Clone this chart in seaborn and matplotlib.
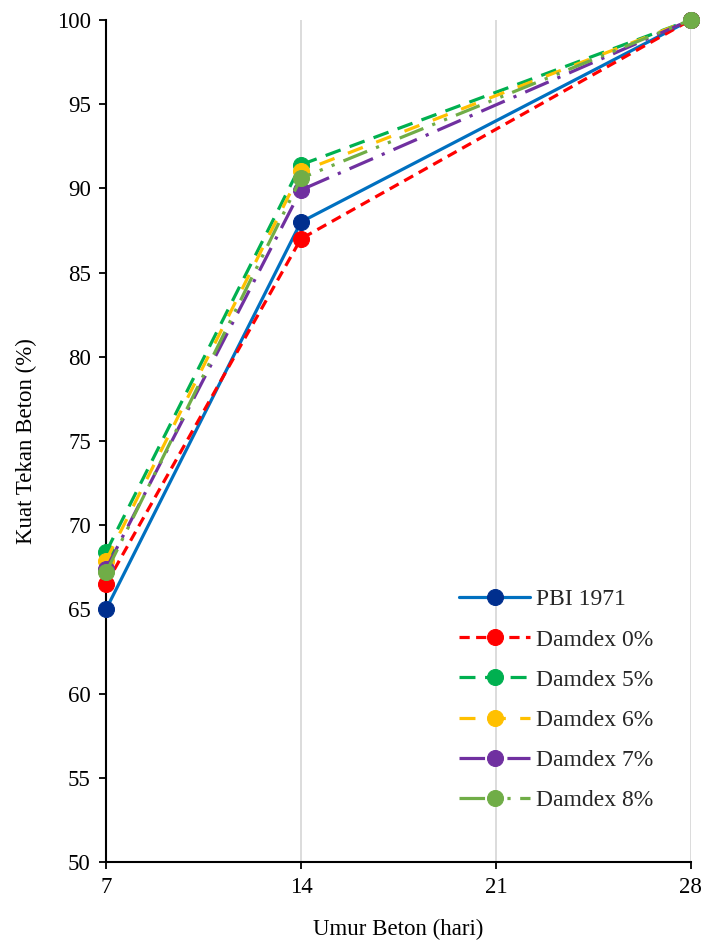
import matplotlib
matplotlib.use("Agg")
import matplotlib.pyplot as plt
import seaborn as sns
import pandas as pd

days = [7, 14, 28]
series_names = ["PBI 1971", "Damdex 0%", "Damdex 5%", "Damdex 6%", "Damdex 7%", "Damdex 8%"]
pbi_1971 = [65.0, 88.0, 100.0]
damdex_0 = [66.5, 87.0, 100.0]
damdex_5 = [68.4, 91.4, 100.0]
damdex_6 = [67.9, 91.0, 100.0]
damdex_7 = [67.4, 89.9, 100.0]
damdex_8 = [67.2, 90.6, 100.0]
x_ticks = [7, 14, 21, 28]
y_ticks = [50, 55, 60, 65, 70, 75, 80, 85, 90, 95, 100]

values = [pbi_1971, damdex_0, damdex_5, damdex_6, damdex_7, damdex_8]
line_colors = ["#0070C0", "#FF0000", "#00B050", "#FFC000", "#7030A0", "#70AD47"]
marker_colors = ["#002F8E", "#FF0000", "#00B050", "#FFC000", "#7030A0", "#70AD47"]
dash_styles = ["-", (0, (3.2, 2.0)), (0, (5, 3)), (0, (5, 4.5)), (0, (8, 3, 1, 3)), (0, (8, 3, 1, 3, 1, 3))]

sns.set_theme(style="white")
plt.rcParams["font.family"] = ["Liberation Serif", "DejaVu Serif"]

fig = plt.figure(figsize=(7.07, 9.42), dpi=100)
ax = fig.add_axes([0.150, 0.0849, 0.827, 0.894])

for name, vals, lc, mc, ds in zip(series_names, values, line_colors, marker_colors, dash_styles):
    df = pd.DataFrame({"day": days, "val": vals})
    sns.lineplot(data=df, x="day", y="val", ax=ax, color=lc, marker="o",
                 markersize=11.5, markerfacecolor=mc, markeredgecolor=mc,
                 linewidth=2.3, label=name, clip_on=False, zorder=3)
    ln = ax.lines[-1]
    ln.set_linestyle(ds)

ax.set_xlim(7, 28)
ax.set_ylim(50, 100)
ax.set_xticks(x_ticks)
ax.set_yticks(y_ticks)
ax.set_xticklabels([str(t) for t in x_ticks])
ax.set_yticklabels([str(t) for t in y_ticks])
ax.xaxis.grid(True, color="#D9D9D9", linewidth=1.3)
ax.yaxis.grid(False)
ax.set_axisbelow(True)
for s in ["top", "right"]:
    ax.spines[s].set_visible(False)
for s in ["left", "bottom"]:
    ax.spines[s].set_color("black")
    ax.spines[s].set_linewidth(1.5)
ax.tick_params(axis="both", direction="out", length=5, width=1.3, color="black",
               labelsize=16.5, labelcolor="black", left=True, bottom=True, pad=6)

ax.set_xlabel("Umur Beton (hari)", fontsize=16.5, color="black", labelpad=15)
ax.set_ylabel("Kuat Tekan Beton (%)", fontsize=16.5, color="black", labelpad=14)

leg = ax.legend(loc="lower right", bbox_to_anchor=(0.972, 0.035), frameon=False,
                fontsize=17, handlelength=3.0, labelspacing=0.79, handletextpad=0.25)

fig.savefig("out.png", dpi=100)
